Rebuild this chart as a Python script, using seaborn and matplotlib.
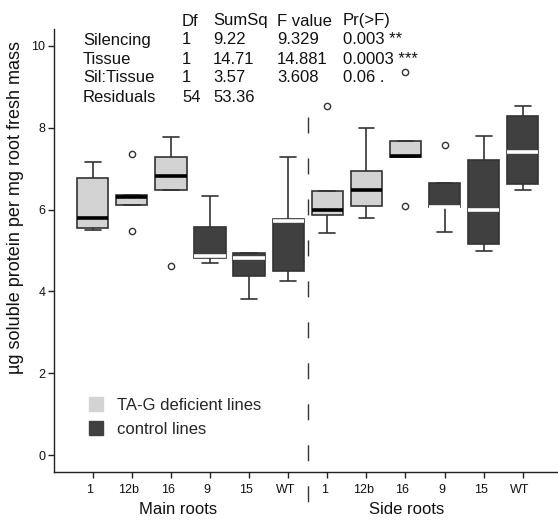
import numpy as np
import pandas as pd
import matplotlib
matplotlib.use("Agg")
import matplotlib.pyplot as plt
import matplotlib.transforms as mtransforms
from matplotlib.lines import Line2D
import seaborn as sns

sns.set_style("ticks")
plt.rcParams["font.family"] = ["Liberation Sans", "DejaVu Sans"]

# Box order along the x axis
lines = ["1", "12b", "16", "9", "15", "WT", "1", "12b", "16", "9", "15", "WT"]
tissues = ["Main roots", "Side roots"]
status = ["TA-G deficient lines"] * 3 + ["control lines"] * 3 \
    + ["TA-G deficient lines"] * 3 + ["control lines"] * 3

# Soluble protein (µg per mg root fresh mass), one list per line and tissue
main_1 = [5.50, 5.54, 5.79, 6.78, 7.17]
main_12b = [5.47, 6.11, 6.31, 6.36, 7.35]
main_16 = [4.62, 6.48, 6.83, 7.29, 7.76]
main_9 = [4.70, 4.82, 4.87, 5.57, 6.32]
main_15 = [3.81, 4.38, 4.81, 4.94, 4.94]
main_wt = [4.25, 4.50, 5.71, 5.76, 7.29]
side_1 = [5.43, 5.87, 5.99, 6.45, 8.52]
side_12b = [5.80, 6.09, 6.48, 6.95, 7.98]
side_16 = [6.09, 7.29, 7.31, 7.68, 9.35]
side_9 = [5.46, 6.05, 6.07, 6.64, 7.57]
side_15 = [4.99, 5.17, 5.99, 7.20, 7.79]
side_wt = [6.48, 6.62, 7.40, 8.29, 8.53]

groups = [main_1, main_12b, main_16, main_9, main_15, main_wt,
          side_1, side_12b, side_16, side_9, side_15, side_wt]

# Two-way ANOVA summary
anova_terms = ["Silencing", "Tissue", "Sil:Tissue", "Residuals"]
anova_df = ["1", "1", "1", "54"]
anova_sumsq = ["9.22", "14.71", "3.57", "53.36"]
anova_f = ["9.329", "14.881", "3.608", ""]
anova_p = ["0.003 **", "0.0003 ***", "0.06 .", ""]
anova_header = ["Df", "SumSq", "F value", "Pr(>F)"]

LIGHT = "#d3d3d3"
DARK = "#404040"
EDGE = "#333333"

rows = []
for i, vals in enumerate(groups):
    for v in vals:
        rows.append({"pos": i + 1, "value": v, "status": status[i]})
df = pd.DataFrame(rows)

W, H = 558, 520
fig = plt.figure(figsize=(W / 100, H / 100), dpi=100)
ax = fig.add_axes([54.4 / W, (H - 471.7) / H, 506.7 / W, 442.4 / H])

flier = dict(marker="o", markerfacecolor="none", markeredgecolor=EDGE,
             markersize=4.5, markeredgewidth=1.0)
for label, fill, med in [("TA-G deficient lines", LIGHT, "black"),
                         ("control lines", DARK, "white")]:
    sub = df[df["status"] == label]
    sns.boxplot(data=sub, x="pos", y="value", native_scale=True, ax=ax,
                color=fill, saturation=1, width=0.8, whis=1.5,
                linecolor=EDGE, linewidth=1.2,
                medianprops=dict(color=med, linewidth=2.6),
                flierprops=flier)

ax.set_xlim(0.02, 12.98)
ax.set_ylim(-0.4, 10.4)
ax.set_yticks([0, 2, 4, 6, 8, 10])
ax.set_xticks(np.arange(1, 13))
ax.set_xticklabels(lines)
ax.set_xlabel("")
ax.set_ylabel("")
for s in ["top", "right"]:
    ax.spines[s].set_visible(False)
for s in ["left", "bottom"]:
    ax.spines[s].set_color("#222222")
    ax.spines[s].set_linewidth(1.0)
ax.tick_params(axis="both", which="major", bottom=True, left=True,
               direction="out", length=4.5, width=1.0,
               color="#222222", labelsize=9, labelcolor="#111111")
ax.tick_params(axis="x", pad=4)
ax.tick_params(axis="y", pad=2)
shift = mtransforms.ScaledTranslation(-3 / 100, 0, fig.dpi_scale_trans)
for t in ax.get_xticklabels():
    t.set_transform(t.get_transform() + shift)

# Divider between main and side roots
ax.plot([6.5, 6.5], [8.26, -1.7], color="#333333", lw=1.0,
        dashes=(11.5, 18), clip_on=False)

# Tissue group labels
trans = mtransforms.blended_transform_factory(ax.transData, fig.transFigure)
for xpos, name in zip([3.19, 9.03], tissues):
    ax.text(xpos, 1 - 509 / H, name, transform=trans, ha="center",
            va="center", fontsize=12, color="#111111")

# Axis title
fig.text(16 / W, 1 - 208 / H, "µg soluble protein per mg root fresh mass",
         rotation=90, ha="center", va="center", fontsize=13, color="#111111")

# ANOVA table
col_x = [83, 182, 213, 277, 343]
row_y = [21, 40, 59, 78, 97]
for j, h in enumerate(anova_header):
    fig.text(col_x[j + 1] / W, 1 - row_y[0] / H, h, ha="left", va="center",
             fontsize=12, color="#111111")
for i in range(len(anova_terms)):
    cells = [anova_terms[i], anova_df[i], anova_sumsq[i], anova_f[i], anova_p[i]]
    for j, c in enumerate(cells):
        fig.text(col_x[j] / W, 1 - row_y[i + 1] / H, c, ha="left",
                 va="center", fontsize=12, color="#111111")

# Legend
handles = [Line2D([], [], marker="s", ls="none", markersize=10,
                  markerfacecolor=c, markeredgecolor=c) for c in (LIGHT, DARK)]
ax.legend(handles, ["TA-G deficient lines", "control lines"],
          loc="upper left", bbox_to_anchor=(87.7 / W, 1 - 398 / H),
          bbox_transform=fig.transFigure, frameon=False, fontsize=12,
          borderpad=0, borderaxespad=0, handlelength=1.0,
          handletextpad=0.75, labelspacing=0.55)

fig.savefig("out.png", dpi=100)
